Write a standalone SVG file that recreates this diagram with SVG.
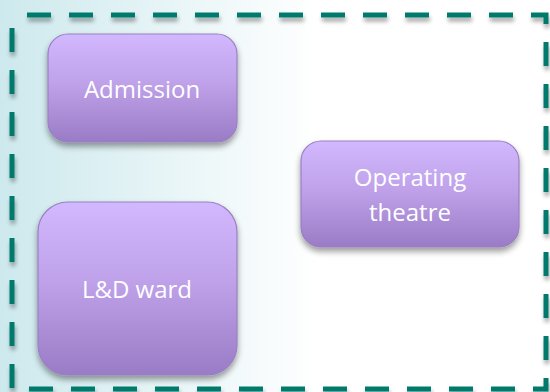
<svg xmlns="http://www.w3.org/2000/svg" width="550" height="392" viewBox="0 0 550 392">
<defs>
<linearGradient id="bg" x1="0" y1="0" x2="1" y2="0">
<stop offset="0" stop-color="#cde9ed"/>
<stop offset="0.58" stop-color="#ffffff"/>
<stop offset="1" stop-color="#ffffff"/>
</linearGradient>
<linearGradient id="nodeFill" x1="0" y1="0" x2="0" y2="1">
<stop offset="0" stop-color="#d2b8fe"/>
<stop offset="0.45" stop-color="#bfa2ea"/>
<stop offset="1" stop-color="#9a7cc6"/>
</linearGradient>
<filter id="shadow" x="-20%" y="-20%" width="140%" height="150%">
<feGaussianBlur in="SourceAlpha" stdDeviation="3"/>
<feOffset dx="0" dy="4"/>
<feComponentTransfer><feFuncA type="linear" slope="0.4"/></feComponentTransfer>
<feMerge><feMergeNode/><feMergeNode in="SourceGraphic"/></feMerge>
</filter>
<filter id="dshadow" x="-5%" y="-5%" width="110%" height="110%">
<feGaussianBlur in="SourceAlpha" stdDeviation="2"/>
<feOffset dx="1" dy="4"/>
<feComponentTransfer><feFuncA type="linear" slope="0.35"/></feComponentTransfer>
<feMerge><feMergeNode/><feMergeNode in="SourceGraphic"/></feMerge>
</filter>
</defs>
<style>
.node rect { fill: url(#nodeFill); stroke: #9a80c2; stroke-width: 1.2; filter: url(#shadow); }
.node text { fill: #ffffff; font-family: "Open Sans", "Liberation Sans", sans-serif; font-size: 24px; text-anchor: middle; }
.frame { fill: none; stroke: #007a6c; stroke-width: 5; stroke-dasharray: 24 18; stroke-dashoffset: -15; filter: url(#dshadow); }
</style>
<rect x="0" y="0" width="550" height="392" fill="url(#bg)"/>
<g id="frame">
<rect class="frame" x="12" y="15" width="534" height="374"/>
</g>
<g id="connectors"></g>
<g id="admission" class="node">
<rect x="48" y="34" width="189" height="108" rx="20"/>
<text x="142" y="98">Admission</text>
</g>
<g id="operating-theatre" class="node">
<rect x="301" y="141" width="218" height="106" rx="20"/>
<text x="410" y="186">Operating</text>
<text x="410" y="221">theatre</text>
</g>
<g id="ld-ward" class="node">
<rect x="38" y="202" width="199" height="173" rx="30"/>
<text x="137" y="298">L&amp;D ward</text>
</g>
</svg>
